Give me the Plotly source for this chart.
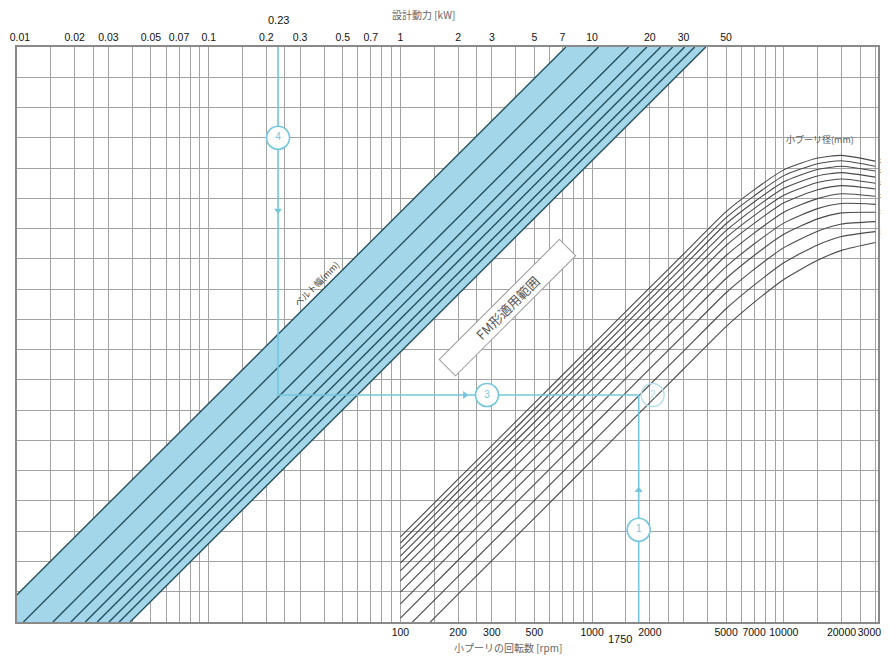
import math
import plotly.graph_objects as go

# ---------------- data ----------------
KW_TICKS = [0.01, 0.02, 0.03, 0.05, 0.07, 0.1, 0.2, 0.3, 0.5, 0.7, 1, 2, 3, 5, 7, 10, 20, 30, 50]
KW_TICK_TEXT = ["\u00a0\u00a00.01", "0.02", "0.03", "0.05", "0.07", "0.1", "0.2", "0.3", "0.5", "0.7",
                "1", "2", "3", "5", "7", "10", "20", "30", "50"]
RPM_TICKS = [100, 200, 300, 500, 1000, 2000, 5000, 7000, 10000, 20000, 30000]
RPM_TICK_TEXT = ["100", "200", "300", "500", "1000", "2000", "5000", "7000", "10000", "20000",
                 "30000\u00a0\u00a0"]

# belt-width lines of the blue band: design power (kW) where each line meets the bottom and the top of the grid
BELT_KW_AT_BOTTOM = [0.0072, 0.0108, 0.0154, 0.0191, 0.0227, 0.0262, 0.0302, 0.0341, 0.0389]
BELT_KW_AT_TOP = [7.3, 10.8, 15.5, 19.3, 22.8, 26.3, 30.4, 34.3, 39.2]
Y_BOTTOM, Y_TOP = 0, 19

# small-pulley-diameter curves: value on the (unlabelled) vertical scale at each rpm
RPM_GRID = [100, 200, 300, 500, 1000, 2000, 3000, 5000, 7000, 10000, 15000, 20000, 30000]
PULLEY_CURVES = [
    [2.81, 4.72, 5.83, 7.23, 9.14, 11.05, 12.16, 13.56, 14.28, 14.94, 15.33, 15.42, 15.23],
    [2.61, 4.52, 5.63, 7.03, 8.94, 10.85, 11.96, 13.36, 14.08, 14.75, 15.14, 15.24, 15.06],
    [2.41, 4.32, 5.43, 6.83, 8.74, 10.65, 11.76, 13.16, 13.88, 14.55, 14.95, 15.06, 14.90],
    [2.18, 4.09, 5.20, 6.60, 8.51, 10.42, 11.53, 12.93, 13.66, 14.33, 14.74, 14.85, 14.70],
    [1.95, 3.86, 4.97, 6.37, 8.28, 10.19, 11.30, 12.70, 13.43, 14.10, 14.52, 14.64, 14.50],
    [1.69, 3.60, 4.71, 6.11, 8.02, 9.93, 11.04, 12.44, 13.17, 13.85, 14.28, 14.42, 14.31],
    [1.36, 3.27, 4.38, 5.78, 7.69, 9.60, 10.71, 12.11, 12.85, 13.54, 13.99, 14.15, 14.07],
    [0.99, 2.90, 4.01, 5.41, 7.32, 9.23, 10.34, 11.74, 12.49, 13.18, 13.66, 13.83, 13.80],
    [0.60, 2.51, 3.62, 5.02, 6.93, 8.84, 9.95, 11.35, 12.11, 12.81, 13.32, 13.52, 13.54],
    [0.13, 2.04, 3.15, 4.55, 6.46, 8.37, 9.48, 10.88, 11.65, 12.37, 12.91, 13.15, 13.23],
    [-0.40, 1.51, 2.62, 4.02, 5.93, 7.84, 8.95, 10.35, 11.13, 11.87, 12.46, 12.74, 12.90],
    [-0.99, 0.92, 2.03, 3.43, 5.34, 7.25, 8.36, 9.76, 10.56, 11.32, 11.95, 12.28, 12.54],
]
PULLEY_LABELS = ["28", "", "25", "", "22", "", "20", "", "18", "", "16", ""]

# worked example
EX_KW = 0.23
EX_RPM = 1750
EX_LEVEL = 7.5
EX_CIRCLE4_Y = 16.0
EX_ARROW_DOWN_Y = 13.6
EX_CIRCLE3_KW = 2.83
EX_ARROW_RIGHT_KW = 2.17
EX_CIRCLE1_Y = 3.05
EX_ARROW_UP_Y = 4.35
EX_CIRCLE2_RPM = 2070

# ---------------- styles ----------------
GRID = "#a3a3a3"
BAND_FILL = "#a3d6e9"
BAND_LINE = "#25505e"
CURVE = "#4a4a4a"
GUIDE = "#74c6de"
NUM_FONT = "Liberation Sans, Arial, sans-serif"
JP_FONT = "Noto Sans CJK JP, sans-serif"
TICK_SIZE = 10.5

fig = go.Figure()

# blue band
fig.add_trace(go.Scatter(
    x=[BELT_KW_AT_BOTTOM[0], BELT_KW_AT_TOP[0], BELT_KW_AT_TOP[-1], BELT_KW_AT_BOTTOM[-1], BELT_KW_AT_BOTTOM[0]],
    y=[Y_BOTTOM, Y_TOP, Y_TOP, Y_BOTTOM, Y_BOTTOM],
    xaxis="x2", yaxis="y", mode="lines", fill="toself", fillcolor=BAND_FILL,
    line=dict(width=0), hoverinfo="skip", showlegend=False))
for kb, kt in zip(BELT_KW_AT_BOTTOM, BELT_KW_AT_TOP):
    fig.add_trace(go.Scatter(x=[kb, kt], y=[Y_BOTTOM, Y_TOP], xaxis="x2", yaxis="y",
                             mode="lines", line=dict(color=BAND_LINE, width=1.4),
                             hoverinfo="skip", showlegend=False))

# pulley curves
for ys in PULLEY_CURVES:
    fig.add_trace(go.Scatter(x=RPM_GRID, y=ys, xaxis="x", yaxis="y", mode="lines",
                             line=dict(color=CURVE, width=1.1, shape="spline", smoothing=0.6),
                             hoverinfo="skip", showlegend=False))

# guide lines of the worked example
fig.add_trace(go.Scatter(x=[EX_KW, EX_KW, EX_RPM / 100], y=[Y_TOP, EX_LEVEL, EX_LEVEL],
                         xaxis="x2", yaxis="y", mode="lines", line=dict(color=GUIDE, width=1.6),
                         hoverinfo="skip", showlegend=False))
fig.add_trace(go.Scatter(x=[EX_RPM, EX_RPM], y=[Y_BOTTOM, EX_LEVEL], xaxis="x", yaxis="y",
                         mode="lines", line=dict(color=GUIDE, width=1.6),
                         hoverinfo="skip", showlegend=False))
# arrows
fig.add_trace(go.Scatter(x=[EX_KW], y=[EX_ARROW_DOWN_Y], xaxis="x2", yaxis="y", mode="markers",
                         marker=dict(symbol="triangle-down", size=7, color=GUIDE),
                         hoverinfo="skip", showlegend=False))
fig.add_trace(go.Scatter(x=[EX_ARROW_RIGHT_KW], y=[EX_LEVEL], xaxis="x2", yaxis="y", mode="markers",
                         marker=dict(symbol="triangle-right", size=7, color=GUIDE),
                         hoverinfo="skip", showlegend=False))
fig.add_trace(go.Scatter(x=[EX_RPM], y=[EX_ARROW_UP_Y], xaxis="x", yaxis="y", mode="markers",
                         marker=dict(symbol="triangle-up", size=7, color=GUIDE),
                         hoverinfo="skip", showlegend=False))
# numbered circles
circ = dict(symbol="circle", size=23, color="white", line=dict(color=GUIDE, width=1.6))
fig.add_trace(go.Scatter(x=[EX_KW, EX_CIRCLE3_KW], y=[EX_CIRCLE4_Y, EX_LEVEL], xaxis="x2", yaxis="y",
                         mode="markers+text", text=["4", "3"], textposition="middle center",
                         textfont=dict(color=GUIDE, size=10, family=NUM_FONT), marker=circ,
                         hoverinfo="skip", showlegend=False))
fig.add_trace(go.Scatter(x=[EX_RPM], y=[EX_CIRCLE1_Y], xaxis="x", yaxis="y",
                         mode="markers+text", text=["1"], textposition="middle center",
                         textfont=dict(color=GUIDE, size=10, family=NUM_FONT), marker=circ,
                         hoverinfo="skip", showlegend=False))
fig.add_trace(go.Scatter(x=[EX_CIRCLE2_RPM], y=[EX_LEVEL], xaxis="x", yaxis="y",
                         mode="markers+text", text=["2"], textposition="middle center",
                         textfont=dict(color="#b5e0ec", size=10, family=NUM_FONT),
                         marker=dict(symbol="circle-open", size=23, color="#b5e0ec",
                                     line=dict(color="#b5e0ec", width=1.4)),
                         hoverinfo="skip", showlegend=False))

# ---------------- axes ----------------
kw_minor = [m * d for d in (0.01, 0.1, 1, 10, 100) for m in (1, 1.5, 2, 2.5, 3, 4, 5, 6, 7, 8, 9)]
kw_minor = [v for v in kw_minor if v <= 310]

# the page body keeps its default 8 px margin, so the figure is 8 px smaller than the window
fig.update_layout(
    width=881, height=654,
    margin=dict(l=9, r=11, t=39, b=40, autoexpand=False),
    paper_bgcolor="white", plot_bgcolor="white",
    showlegend=False,
    xaxis=dict(type="log", range=[0, 4.4914], tickvals=RPM_TICKS, ticktext=RPM_TICK_TEXT,
               tickangle=0, automargin=False, ticklabeloverflow="allow",
               showgrid=False, zeroline=False, showline=True, linecolor="#8a8a8a", linewidth=1.5,
               ticks="", tickfont=dict(family=NUM_FONT, size=TICK_SIZE, color="#111")),
    xaxis2=dict(type="log", range=[-2, 2.4914], overlaying="x", side="top", anchor="y",
                tickvals=KW_TICKS, ticktext=KW_TICK_TEXT, tickangle=0, automargin=False,
                ticklabeloverflow="allow",
                showgrid=True, gridcolor=GRID, gridwidth=1,
                minor=dict(tickvals=kw_minor, showgrid=True, gridcolor=GRID, gridwidth=1, ticks=""),
                zeroline=False, showline=True, linecolor="#8a8a8a", linewidth=1.5,
                ticks="", tickfont=dict(family=NUM_FONT, size=TICK_SIZE, color="#111")),
    yaxis=dict(range=[Y_BOTTOM, Y_TOP], dtick=1, tick0=0, showticklabels=False, ticks="",
               automargin=False,
               showgrid=True, gridcolor=GRID, gridwidth=1, zeroline=False,
               showline=True, mirror=True, linecolor="#8a8a8a", linewidth=1.5),
)

L = math.log10  # annotation positions on log axes are given in log10 units
annotations = [
    dict(text="設計動力 [kW]", xref="paper", yref="paper", x=0.4716, y=1.0565, showarrow=False,
         xanchor="center", yanchor="middle", font=dict(family=JP_FONT, size=10, color="#666")),
    dict(text="小プーリの回転数 [rpm]", xref="paper", yref="paper", x=0.570, y=-0.045, showarrow=False,
         xanchor="center", yanchor="middle", font=dict(family=JP_FONT, size=10, color="#666")),
    dict(text="0.23", xref="x2", yref="paper", x=L(EX_KW), y=1.047, showarrow=False,
         xanchor="center", yanchor="middle", font=dict(family=NUM_FONT, size=11, color="#111")),
    dict(text="1750", xref="x", yref="paper", x=L(EX_RPM), y=-0.0296, showarrow=False,
         xanchor="right", yanchor="middle", xshift=-5,
         font=dict(family=NUM_FONT, size=11, color="#111")),
    dict(text="小プーリ径(mm)", xref="x", yref="y", x=L(15500), y=15.95, showarrow=False,
         font=dict(family=JP_FONT, size=9, color="#555")),
    dict(text="ベルト幅(mm)", xref="x2", yref="y", x=L(0.367), y=11.2, showarrow=False, textangle=-45,
         font=dict(family=JP_FONT, size=9, color="#444")),
    dict(text="FM形適用範囲", xref="x2", yref="y", x=L(3.6), y=10.38, showarrow=False, textangle=-45,
         width=165, height=18,
         font=dict(family=JP_FONT, size=13, color="#555"), bgcolor="white",
         bordercolor="#999", borderwidth=1, borderpad=2),
]
for lab, ys in zip(PULLEY_LABELS, PULLEY_CURVES):
    if lab:
        annotations.append(dict(text=lab, xref="paper", yref="y", x=1.0, y=ys[-1], xanchor="left",
                                showarrow=False, font=dict(family=NUM_FONT, size=6, color="#666")))
fig.update_layout(annotations=annotations)

fig.write_html("out.html")
